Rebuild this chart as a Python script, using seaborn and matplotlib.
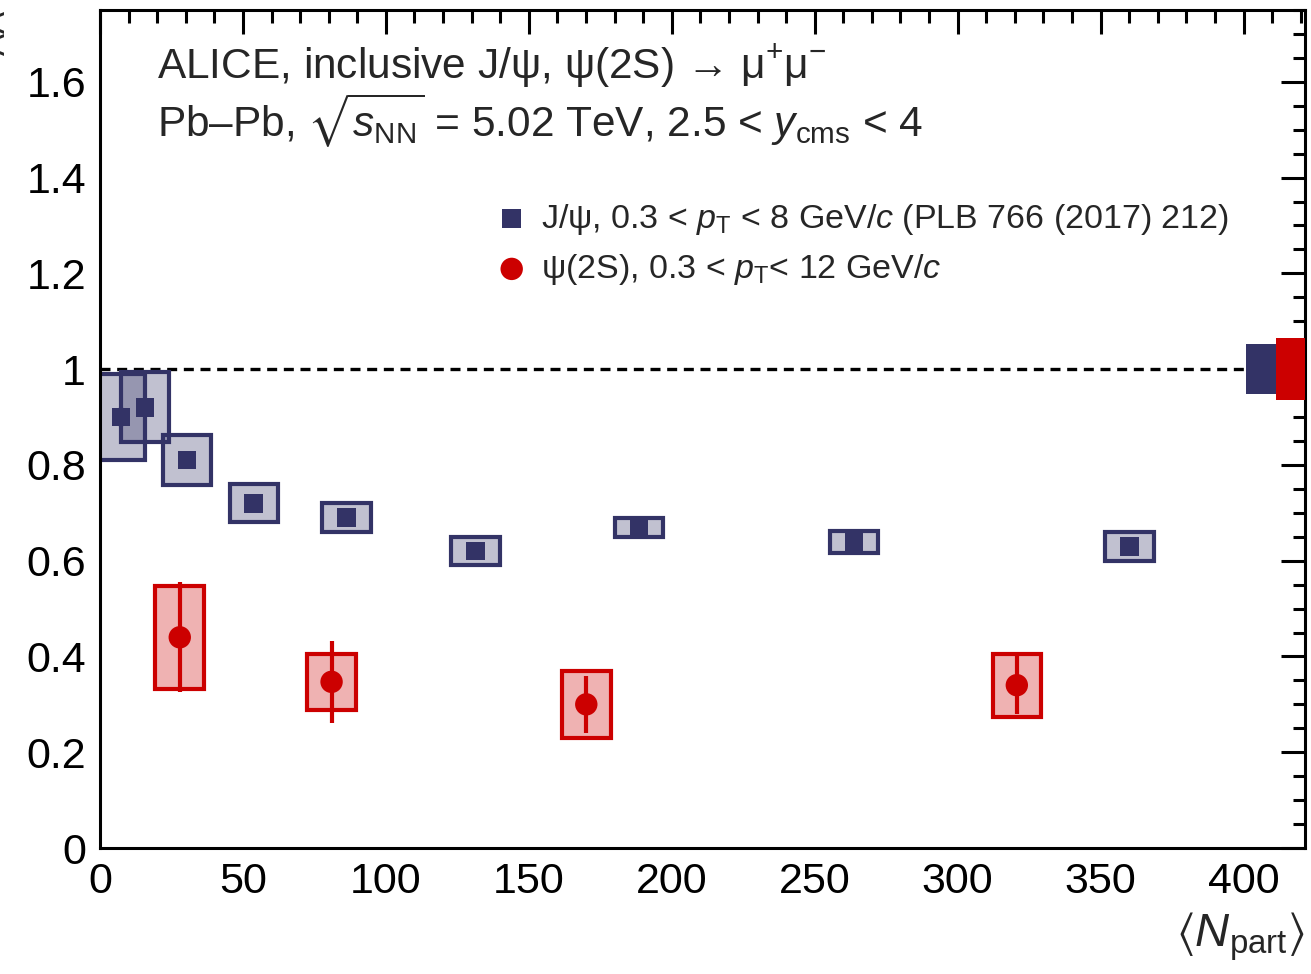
import numpy as np
import pandas as pd
import matplotlib
matplotlib.use("Agg")
import matplotlib.pyplot as plt
from matplotlib.patches import Rectangle
from matplotlib.ticker import MultipleLocator
import seaborn as sns

# J/psi R_AA vs <N_part> (PLB 766 (2017) 212)
jpsi_npart = [7.3, 15.7, 30.4, 53.8, 86.3, 131.4, 188.6, 263.8, 360.2]
jpsi_raa = [0.90, 0.92, 0.81, 0.72, 0.69, 0.62, 0.67, 0.64, 0.63]
jpsi_stat = [0.02, 0.02, 0.015, 0.012, 0.01, 0.01, 0.01, 0.01, 0.01]
jpsi_syst = [0.09, 0.073, 0.052, 0.04, 0.03, 0.03, 0.02, 0.023, 0.03]
jpsi_global = 0.052

# psi(2S) R_AA vs <N_part>
psi2s_npart = [27.9, 81.0, 170.1, 320.7]
psi2s_raa = [0.44, 0.347, 0.30, 0.34]
psi2s_stat = [0.115, 0.085, 0.06, 0.06]
psi2s_syst = [0.107, 0.058, 0.07, 0.066]
psi2s_global = 0.064

x_ticks = [0, 50, 100, 150, 200, 250, 300, 350, 400]
y_ticks = [0, 0.2, 0.4, 0.6, 0.8, 1.0, 1.2, 1.4, 1.6]
y_tick_labels = ["0", "0.2", "0.4", "0.6", "0.8", "1", "1.2", "1.4", "1.6"]

BLUE = "#333366"
RED = "#cc0000"
BOX_HALF = 8.5

sns.set_theme(style="white")
plt.rcParams["font.family"] = ["Liberation Sans", "DejaVu Sans"]
plt.rcParams["mathtext.fontset"] = "custom"
plt.rcParams["mathtext.rm"] = "Liberation Sans"
plt.rcParams["mathtext.it"] = "Liberation Sans:italic"
plt.rcParams["mathtext.sf"] = "Liberation Sans"
plt.rcParams["mathtext.fallback"] = "stix"

fig = plt.figure(figsize=(13.11, 9.74), dpi=100)
ax = fig.add_axes([100 / 1311, 1 - 848 / 974, 1205 / 1311, 838 / 974])

jpsi = pd.DataFrame({"npart": jpsi_npart, "raa": jpsi_raa,
                     "stat": jpsi_stat, "syst": jpsi_syst})
psi2s = pd.DataFrame({"npart": psi2s_npart, "raa": psi2s_raa,
                      "stat": psi2s_stat, "syst": psi2s_syst})


def syst_boxes(df, color, lw):
    for _, r in df.iterrows():
        ax.add_patch(Rectangle((r.npart - BOX_HALF, r.raa - r.syst),
                               2 * BOX_HALF, 2 * r.syst,
                               facecolor=matplotlib.colors.to_rgba(color, 0.3),
                               edgecolor=color, linewidth=lw, zorder=2))


syst_boxes(jpsi, BLUE, 3.0)
syst_boxes(psi2s, RED, 3.0)

# statistical uncertainties
ax.errorbar(jpsi.npart, jpsi.raa, yerr=jpsi.stat, fmt="none",
            ecolor=BLUE, elinewidth=3, capsize=0, zorder=3)
ax.errorbar(psi2s.npart, psi2s.raa, yerr=psi2s.stat, fmt="none",
            ecolor=RED, elinewidth=3, capsize=0, zorder=3)

sns.scatterplot(data=jpsi, x="npart", y="raa", ax=ax, marker="s", s=180,
                color=BLUE, edgecolor="none", zorder=4,
                label="J/ψ, 0.3 < $p_{\\mathrm{T}}$ < 8 GeV/$c$ (PLB 766 (2017) 212)")
sns.scatterplot(data=psi2s, x="npart", y="raa", ax=ax, marker="o", s=260,
                color=RED, edgecolor="none", zorder=4,
                label="ψ(2S), 0.3 < $p_{\\mathrm{T}}$< 12 GeV/$c$")

# global uncertainty boxes at unity
ax.add_patch(Rectangle((401, 1 - jpsi_global), 10.5, 2 * jpsi_global,
                       facecolor=BLUE, edgecolor="none", zorder=3))
ax.add_patch(Rectangle((411.5, 1 - psi2s_global), 10.5, 2 * psi2s_global,
                       facecolor=RED, edgecolor="none", zorder=3))

ax.plot([0, 401], [1, 1], color="black", lw=2.4, ls=(0, (3, 2)), zorder=1)

ax.set_xlim(0, 421.5)
ax.set_ylim(0, 1.75)
ax.set_xticks(x_ticks)
ax.set_yticks(y_ticks)
ax.set_yticklabels(y_tick_labels)
ax.xaxis.set_minor_locator(MultipleLocator(10))
ax.yaxis.set_minor_locator(MultipleLocator(0.05))
ax.tick_params(which="both", direction="in", top=True, right=True,
               width=2.2, labelsize=31, colors="black")
ax.tick_params(which="major", length=17, pad=10)
ax.tick_params(which="minor", length=9)
for s in ax.spines.values():
    s.set_linewidth(2.2)
    s.set_color("black")

ax.set_xlabel(r"$\langle N_{\mathrm{part}}\rangle$", fontsize=34)
ax.xaxis.set_label_coords(1.0, -0.075)
ax.xaxis.label.set_ha("right")
ax.set_ylabel(r"$R_{\mathrm{AA}}$", fontsize=34)
ax.yaxis.set_label_coords(-0.076, 1.0)
ax.yaxis.label.set_ha("right")

ax.text(0.047, 0.918, "ALICE, inclusive J/ψ, ψ(2S) → μ$^{+}$μ$^{-}$",
        transform=ax.transAxes, fontsize=30.5)
ax.text(0.047, 0.848, "Pb–Pb, $\\sqrt{s_{\\mathrm{NN}}}$ = 5.02 TeV, 2.5 < $y_{\\mathrm{cms}}$ < 4",
        transform=ax.transAxes, fontsize=30.5)

ax.legend(loc="upper left", bbox_to_anchor=(0.3, 0.808), frameon=False,
          fontsize=24.5, handletextpad=0.3, labelspacing=0.45, markerscale=1.0,
          handlelength=1.15)

fig.savefig("out.png", dpi=100)
